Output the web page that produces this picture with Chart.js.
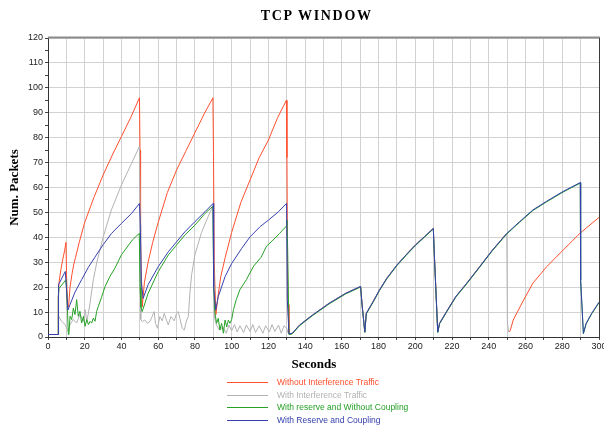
<!DOCTYPE html>
<html>
<head>
<meta charset="utf-8">
<script src="https://cdn.jsdelivr.net/npm/chart.js@4.4.0/dist/chart.umd.min.js"></script>
<style>
  html, body { margin: 0; padding: 0; background: #ffffff; }
  #wrap { position: relative; width: 604px; height: 425px; }
  #title { position: absolute; left: 215px; width: 200px; top: 8px; line-height: 16px; text-align: center;
           font-family: "Liberation Serif", "Times New Roman", serif; font-weight: bold; font-size: 14px;
           letter-spacing: 1.7px; padding-left: 1.7px; color: #000; }
  #xtitle { position: absolute; left: 264px; width: 100px; top: 356px; line-height: 15px; text-align: center;
           font-family: "Liberation Serif", "Times New Roman", serif; font-weight: bold; font-size: 13px; color: #000; }
  #legend { position: absolute; left: 227px; top: 376px; font-family: "Liberation Sans", Arial, sans-serif; font-size: 8.5px; }
  .row { position: relative; height: 12.6px; white-space: nowrap; }
  .sw { position: absolute; left: 0; top: 6px; width: 41px; height: 0; border-top: 1px solid; }
  .tx { position: absolute; left: 50px; top: 0; line-height: 12.6px; }
</style>
</head>
<body>
<div id="wrap">
  <canvas id="c" width="604" height="425"></canvas>
  <div id="title"></div>
  <div id="xtitle"></div>
  <div id="legend"></div>
</div>
<script>
// ---- Text ----
const chartTitle = 'TCP WINDOW';
const xAxisTitle = 'Seconds';
const yAxisTitle = 'Num. Packets';

// ---- Data (seconds, packets) ----
const seriesLabels = [
  'Without Interference Traffic',
  'With Interference Traffic',
  'With reserve and Without Coupling',
  'With Reserve and Coupling'
];
const seriesColors = ['#ff4f2e', '#b2b2b2', '#26a126', '#3540ad'];

// shared tail after x = 131 (all schemes coincide)
const tailT = [131.2, 133, 137, 144, 153, 162, 170.2, 171, 172.5, 173.3, 177, 180.5, 184.5, 190, 195, 200, 205, 209.8, 210.2, 212.2, 213.2, 217, 222, 228, 235, 242, 249.8];
const tailW = [1.2, 1.5, 4.8, 8.8, 13.5, 17.5, 20.3, 13, 2, 9.5, 14.2, 18.9, 23.6, 28.9, 33, 36.9, 40.3, 43.6, 35.6, 2, 5.5, 10.2, 16.2, 21.6, 28.2, 34.9, 41.6];

const redT = [0, 5.5, 5.6, 6, 7, 8, 9, 9.8, 10.1, 10.6, 11.2, 12, 13, 14, 15, 17, 20, 25, 30, 35, 40, 45, 49.8, 50.1, 50.4, 51.3, 52.5, 54.5, 57, 60, 65, 70, 75, 80, 85, 89.8, 90.1, 90.5, 91.4, 92.5, 94, 96.5, 100, 105, 110, 115, 120, 125, 129.8, 130.1, 130.4, 130.7];
const redW = [1, 1, 16, 22, 27, 31, 34.5, 38, 25, 13, 12, 20, 25, 29, 32, 38, 46, 56, 65, 73, 80.5, 88, 96, 75, 40, 12, 22, 30, 38, 46, 58, 67, 74.5, 82, 89.5, 96, 74, 30, 9, 16, 24, 32, 42, 54, 63, 72, 79, 88, 95, 72, 30, 13];
// null = no red trace drawn while the (gray-covered) drop happens
const redEndT = [250.4, 251.2, 251.6, 253.3, 259, 264, 271.5, 280.5, 289.6, 300];
const redEndW = [null, 2, 2.5, 6.8, 14.9, 21.6, 28.2, 34.9, 41.6, 48];

const grayT = [0, 5.5, 5.6, 7.4, 9.3, 10.5, 11.1, 12, 13.8, 15.6, 17.4, 19.3, 20.2, 21.1, 22, 22.9, 24.7, 26.5, 30, 34.5, 40, 45.5, 49.8, 50.2, 50.5, 51.3, 52.7, 54.2, 55.5, 56.7, 57.8, 58.5, 59.6, 60.9, 62.2, 63.3, 64.5, 65.5, 66.9, 68.7, 70, 70.9, 71.8, 73.1, 74.2, 75.5, 76.4, 77.3, 78.2, 80, 83.6, 87.3, 89.8, 90.2, 90.6, 91.7, 93.4, 95.2, 97, 98.5, 100, 101.5, 103, 104.5, 106.5, 108, 110, 111.5, 113, 115, 117, 118.5, 120.5, 122, 123.5, 125.5, 127, 128.5, 130, 130.5];
const grayW = [1, 1, 8.5, 6.3, 5, 3, 2.3, 5, 7, 5.6, 9, 6.3, 11, 6.3, 9.6, 13.7, 23, 29.7, 40, 51, 61, 69.7, 76.5, 45, 7, 6.2, 6.8, 5.5, 6.2, 8.2, 10.2, 5.5, 3.5, 8.2, 6.5, 9.5, 6.8, 4.8, 8.2, 6.5, 9.5, 10.2, 7.5, 3.5, 2.8, 6.8, 8.2, 18, 25, 33, 42, 48.5, 52.5, 30, 8, 4.8, 2.8, 4.1, 1.5, 4.8, 2.5, 5, 2, 4.5, 1.8, 4.8, 2.2, 5, 1.8, 4.5, 1.5, 4.5, 2, 5, 2.2, 4.8, 1.5, 4.5, 3.5, 2];
const grayEndT = [250.1, 250.8];
const grayEndW = [6, 2];

const greenT = [0, 5.5, 5.6, 6, 9.8, 10.2, 11.1, 11.4, 12, 12.9, 13.8, 14.7, 15.6, 16.5, 17.4, 18.3, 19.3, 20.2, 21.1, 22, 22.9, 23.8, 24.7, 25.6, 26.5, 27.4, 29.3, 31.1, 33.8, 36.5, 40, 46, 49.7, 50.1, 50.6, 51.3, 54.5, 60, 65.5, 70, 74.5, 80, 85.5, 89.8, 90.2, 90.9, 91.8, 92.7, 93.6, 94.5, 95.5, 96.4, 97.3, 98.2, 99.1, 100, 101, 102.5, 104.5, 108, 112, 116, 119, 122, 126, 129.8, 130.1, 130.5];
const greenW = [1, 1, 16, 19.5, 23, 18, 1, 1.5, 8.3, 7, 11.6, 9, 15, 8.3, 10.3, 5.6, 8.3, 4.3, 7, 5, 6.3, 5.6, 7.6, 6.3, 10.3, 12.3, 16.3, 20.3, 24.4, 27.7, 33, 39, 41.6, 20, 12, 10.2, 17.5, 26.2, 32.9, 36.9, 40.9, 44.9, 49.6, 52.5, 20, 9.5, 5.5, 7.5, 2.8, 5.5, 1.5, 6.8, 4.1, 6.8, 5.5, 7, 11, 15, 19, 23, 28.5, 32, 36.5, 38.5, 41.5, 44.5, 47, 35, 14];

const blueT = [0, 5.5, 5.6, 5.9, 9.4, 10, 10.8, 12, 14.7, 18.3, 22, 25.5, 30, 34.5, 40, 45.5, 49.8, 50.2, 50.8, 51.8, 54.5, 60, 65.5, 70, 74.5, 80, 85.5, 89.9, 90.2, 91.3, 92.7, 96.4, 100, 105.5, 110, 115.5, 120, 125.5, 129.9, 130.3];
const blueW = [1, 1, 16, 21, 26.3, 20, 10.8, 13, 18, 23, 28, 32, 37, 41.5, 45.6, 49.6, 53.6, 47, 22, 15.5, 21, 28.2, 34.2, 38.2, 42.2, 46.3, 50.3, 53.6, 20, 10.8, 16.2, 24.2, 29.5, 35.6, 40.2, 44.3, 46.9, 50.3, 53.6, 15];
const blueEndT = [256.8, 264, 271.3, 280.4, 289.8, 290, 291.5, 293, 296, 300];
const blueEndW = [46.3, 51, 54.4, 58.4, 62, 23, 1.5, 5.5, 9.5, 14];

const xTicksMax = 300, xStep = 10, xLabelStep = 20;
const yTicksMax = 120, yStep = 5, yLabelStep = 10;

function pts(ts, ws) { return ts.map((t, i) => ({ x: t, y: ws[i] })); }

const redData = pts(redT, redW).concat(pts(tailT, tailW), pts(redEndT, redEndW));
const grayData = pts(grayT, grayW).concat(pts(tailT, tailW), pts(grayEndT, grayEndW));
const greenData = pts(greenT, greenW).concat(pts(tailT, tailW.map(v => v - 0.25)), pts(blueEndT, blueEndW.map(v => v - 0.25)));
const blueData = pts(blueT, blueW).concat(pts(tailT, tailW), pts(blueEndT, blueEndW));

const allData = [redData, grayData, greenData, blueData];
const drawOrder = [4, 3, 2, 1];

const datasets = allData.map((d, i) => ({
  label: seriesLabels[i],
  data: d,
  borderColor: seriesColors[i],
  backgroundColor: seriesColors[i],
  borderWidth: 1,
  pointRadius: 0,
  tension: 0,
  fill: false,
  spanGaps: false,
  order: drawOrder[i]
}));

const framePlugin = {
  id: 'frame',
  afterDatasetsDraw(chart) {
    const { ctx, chartArea } = chart;
    ctx.save();
    ctx.strokeStyle = '#8c8c8c';
    ctx.lineWidth = 2;
    ctx.beginPath();
    ctx.moveTo(chartArea.left, chartArea.top - 0.5);
    ctx.lineTo(chartArea.right + 1, chartArea.top - 0.5);
    ctx.stroke();
    ctx.strokeStyle = '#3a3a3a';
    ctx.lineWidth = 1;
    ctx.beginPath();
    ctx.moveTo(chartArea.right + 0.5, chartArea.top);
    ctx.lineTo(chartArea.right + 0.5, chartArea.bottom);
    ctx.stroke();
    ctx.restore();
  }
};

const tickFont = { family: 'Liberation Sans', size: 9 };

new Chart(document.getElementById('c'), {
  type: 'line',
  data: { datasets },
  options: {
    responsive: false,
    animation: false,
    devicePixelRatio: 1,
    layout: { padding: { left: 0, right: 5, top: 38, bottom: 51 } },
    plugins: {
      legend: { display: false },
      tooltip: { enabled: false },
      title: { display: false }
    },
    scales: {
      x: {
        type: 'linear',
        min: 0, max: xTicksMax,
        afterFit(scale) { scale.height = 37; scale.paddingLeft = 0; scale.paddingRight = 0; },
        ticks: {
          stepSize: xStep, autoSkip: false, maxRotation: 0,
          color: '#222', font: tickFont, padding: 1,
          callback: v => (v % xLabelStep === 0 ? String(v) : '')
        },
        grid: { color: '#d2d2d2', lineWidth: 1, tickColor: '#444', tickLength: 3 },
        border: { color: '#333', width: 1 },
        title: { display: false }
      },
      y: {
        min: 0, max: yTicksMax,
        afterFit(scale) { scale.width = 48; scale.paddingTop = 0; scale.paddingBottom = 0; },
        ticks: {
          stepSize: yStep, autoSkip: false,
          color: '#222', font: tickFont, padding: 2,
          callback: v => (v % yLabelStep === 0 ? String(v) : '')
        },
        grid: {
          color: ctx => (ctx.tick && ctx.tick.value % yLabelStep === 0 ? '#d2d2d2' : 'rgba(0,0,0,0)'),
          lineWidth: 1, tickColor: '#444', tickLength: 3
        },
        border: { color: '#333', width: 1 },
        title: {
          display: true, text: yAxisTitle, color: '#000',
          font: { family: 'Liberation Serif', size: 13, weight: 'bold' },
          padding: { top: 7, bottom: 4 }
        }
      }
    }
  },
  plugins: [framePlugin]
});

document.getElementById('title').textContent = chartTitle;
document.getElementById('xtitle').textContent = xAxisTitle;

// HTML legend built from the series arrays
const leg = document.getElementById('legend');
seriesLabels.forEach((lab, i) => {
  const row = document.createElement('div');
  row.className = 'row';
  const sw = document.createElement('span');
  sw.className = 'sw';
  sw.style.borderTopColor = seriesColors[i];
  const tx = document.createElement('span');
  tx.className = 'tx';
  tx.style.color = seriesColors[i];
  tx.textContent = lab;
  row.appendChild(sw);
  row.appendChild(tx);
  leg.appendChild(row);
});
</script>
</body>
</html>
